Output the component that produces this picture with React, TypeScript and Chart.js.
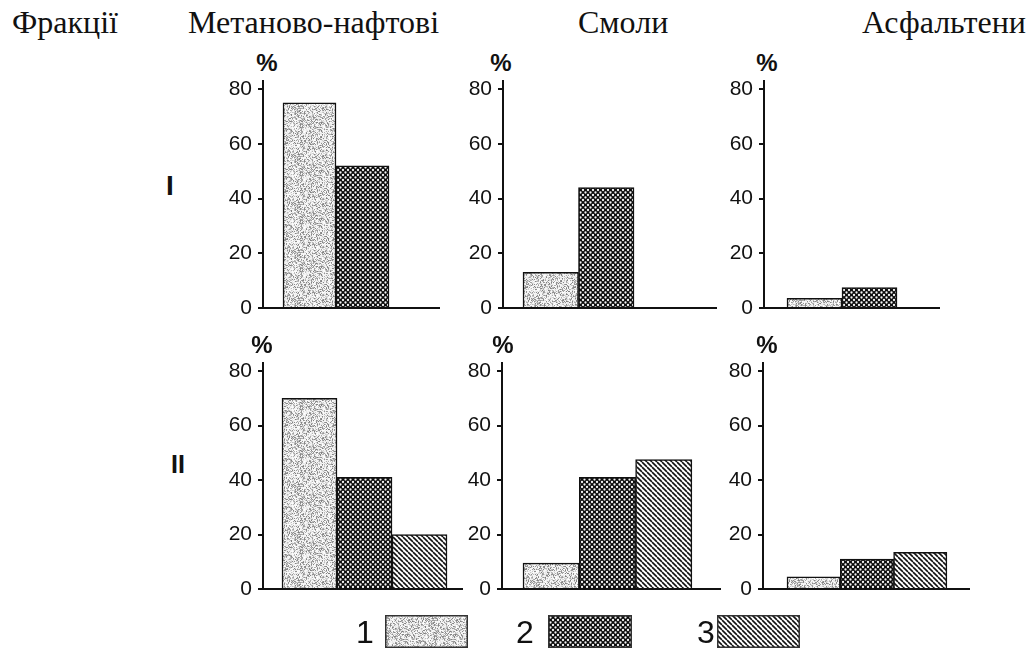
import React, { useEffect, useRef } from "react";
import { Chart, registerables } from "chart.js";

Chart.register(...registerables);

// ---------- DATA ----------
const headerLabel = "Фракції";
const fractions = ["Метаново-нафтові", "Смоли", "Асфальтени"];
const rowLabels = ["I", "II"];
const seriesLabels = ["1", "2", "3"];
const yTicks = [0, 20, 40, 60, 80];
const yAxisTop = 83;

// Row I (series 1 and 2 only), values per fraction
const rowISeries1 = [75, 13, 3.5];
const rowISeries2 = [52, 44, 7.5];
// Row II, values per fraction
const rowIISeries1 = [70, 9.5, 4.5];
const rowIISeries2 = [41, 41, 11];
const rowIISeries3 = [20, 47.5, 13.5];

const rowSeries = [
  [rowISeries1, rowISeries2],
  [rowIISeries1, rowIISeries2, rowIISeries3],
];

// ---------- LAYOUT ----------
const YW = 60; // y-axis box width
const PT = 26; // top padding
const PB = 22; // bottom padding
const PR = 4; // right padding
const XH = 2; // x-axis box height

const ROWS = [
  { base: 308, y80: 89, pctBase: 71, labelX: 166, labelBase: 196, labelSize: 28 },
  { base: 589, y80: 371, pctBase: 353, labelX: 171, labelBase: 473, labelSize: 25 },
];
const PANELS = [
  [
    { x0: 263, x1: 439, barStart: 283, barW: 53, pctX: 267 },
    { x0: 503, x1: 716, barStart: 523, barW: 55.5, pctX: 501 },
    { x0: 764, x1: 939, barStart: 787, barW: 55, pctX: 767 },
  ],
  [
    { x0: 263, x1: 462, barStart: 282, barW: 55, pctX: 262 },
    { x0: 502, x1: 720, barStart: 523, barW: 56.3, pctX: 503 },
    { x0: 763, x1: 969, barStart: 787, barW: 53.3, pctX: 767 },
  ],
];
const HEADER_X = [188, 578, 862];
const HEADER_LABEL_X = 12;
const HEADER_BASE = 33;
const HEADER_SIZE = 32;
const LEGEND = [
  { digitX: 356, boxX: 385, boxW: 83 },
  { digitX: 516, boxX: 548, boxW: 84 },
  { digitX: 697, boxX: 717, boxW: 83 },
];
const LEGEND_BOX_TOP = 615;
const LEGEND_BOX_H = 33;
const LEGEND_DIGIT_BASE = 643;
const LEGEND_DIGIT_SIZE = 32;

const SANS = '"Liberation Sans", Arial, Helvetica, sans-serif';
const SERIF = '"Liberation Serif", "Times New Roman", Times, serif';
const INK = "#111";

// ---------- PATTERNS ----------
function hash(x: number, y: number): number {
  let h = (Math.imul(x, 374761393) + Math.imul(y, 668265263)) | 0;
  h = Math.imul(h ^ (h >>> 13), 1274126177);
  h ^= h >>> 16;
  return (h >>> 0) / 4294967296;
}

function stippleTile(): HTMLCanvasElement {
  const s = 48;
  const c = document.createElement("canvas");
  c.width = s;
  c.height = s;
  const ctx = c.getContext("2d")!;
  const img = ctx.createImageData(s, s);
  for (let y = 0; y < s; y++) {
    for (let x = 0; x < s; x++) {
      const v = hash(x + 11, y + 7);
      const w = hash(x + 97, y + 31);
      const g = v < 0.45 ? 125 + w * 90 : 228 + w * 27;
      const i = (y * s + x) * 4;
      img.data[i] = g;
      img.data[i + 1] = g;
      img.data[i + 2] = g;
      img.data[i + 3] = 255;
    }
  }
  ctx.putImageData(img, 0, 0);
  return c;
}

function dotsTile(): HTMLCanvasElement {
  const s = 5;
  const c = document.createElement("canvas");
  c.width = s;
  c.height = s;
  const ctx = c.getContext("2d")!;
  ctx.fillStyle = "#0d0d0d";
  ctx.fillRect(0, 0, s, s);
  ctx.fillStyle = "#f4f4f4";
  const pts = [
    [0, 0],
    [s, 0],
    [0, s],
    [s, s],
    [s / 2, s / 2],
  ];
  for (const [px, py] of pts) {
    ctx.beginPath();
    ctx.arc(px, py, 1.15, 0, Math.PI * 2);
    ctx.fill();
  }
  return c;
}

function stripesTile(): HTMLCanvasElement {
  const s = 5;
  const c = document.createElement("canvas");
  c.width = s;
  c.height = s;
  const ctx = c.getContext("2d")!;
  ctx.fillStyle = "#ffffff";
  ctx.fillRect(0, 0, s, s);
  ctx.strokeStyle = "#111";
  ctx.lineWidth = 1.6;
  for (const k of [-s, 0, s]) {
    ctx.beginPath();
    ctx.moveTo(k, 0);
    ctx.lineTo(k + s, s);
    ctx.stroke();
  }
  return c;
}

const patternMakers = [stippleTile, dotsTile, stripesTile];

// ---------- COMPONENTS ----------
function Panel({ row, col }: { row: number; col: number }) {
  const ref = useRef<HTMLCanvasElement>(null);
  const R = ROWS[row];
  const P = PANELS[row][col];
  const k = (R.base - R.y80) / yTicks[yTicks.length - 1];
  const yTopPix = R.base - yAxisTop * k;
  const top = Math.round(yTopPix - PT);
  const left = P.x0 - YW;
  const width = Math.round(YW + (P.x1 - P.x0) + PR);
  const height = Math.round(R.base - top + XH + PB);
  const padTop = Math.round(yTopPix) - top;
  const values = rowSeries[row].map((s) => s[col]);
  const xMin = 0.5 - (P.barStart - P.x0) / P.barW;
  const xMax = xMin + (P.x1 - P.x0) / P.barW;

  useEffect(() => {
    const canvas = ref.current!;
    const ctx = canvas.getContext("2d")!;
    const pats = patternMakers.map((m) => ctx.createPattern(m(), "repeat"));
    const chart = new Chart(canvas, {
      type: "bar",
      data: {
        datasets: [
          {
            label: fractions[col],
            data: values.map((v, i) => ({ x: i + 1, y: v })),
            backgroundColor: values.map((_, i) => pats[i]) as any,
            borderColor: INK,
            borderWidth: 1.5,
            categoryPercentage: 1,
            barPercentage: 1,
          },
        ],
      },
      options: {
        responsive: false,
        animation: false,
        devicePixelRatio: 1,
        layout: { padding: { top: padTop, bottom: PB, left: 0, right: PR } },
        plugins: { legend: { display: false }, tooltip: { enabled: false } },
        scales: {
          x: {
            type: "linear",
            min: xMin,
            max: xMax,
            offset: false,
            ticks: { display: false, stepSize: 1, includeBounds: false },
            grid: { display: false },
            border: { display: true, color: INK, width: 2 },
            afterBuildTicks: (s: any) => {
              s.ticks = values.map((_, i) => ({ value: i + 1 }));
            },
            afterFit: (s: any) => {
              s.height = XH;
            },
          },
          y: {
            type: "linear",
            min: 0,
            max: yAxisTop,
            ticks: {
              stepSize: 20,
              includeBounds: false,
              padding: 6,
              color: INK,
              font: { family: SANS, size: 21 },
            },
            afterBuildTicks: (s: any) => {
              s.ticks = yTicks.map((v) => ({ value: v }));
            },
            grid: {
              display: true,
              drawOnChartArea: false,
              drawTicks: true,
              tickLength: 5,
              color: INK,
              lineWidth: 2,
            },
            border: { display: true, color: INK, width: 2 },
            afterFit: (s: any) => {
              s.width = YW;
            },
          },
        },
      } as any,
    });
    return () => chart.destroy();
  }, []);

  return (
    <canvas
      ref={ref}
      width={width}
      height={height}
      style={{ position: "absolute", left, top, width, height, display: "block" }}
    />
  );
}

function LegendBox({ idx }: { idx: number }) {
  const ref = useRef<HTMLCanvasElement>(null);
  const L = LEGEND[idx];
  useEffect(() => {
    const c = ref.current!;
    const ctx = c.getContext("2d")!;
    ctx.fillStyle = ctx.createPattern(patternMakers[idx](), "repeat")!;
    ctx.fillRect(0, 0, c.width, c.height);
    ctx.strokeStyle = "#333";
    ctx.lineWidth = 1.5;
    ctx.strokeRect(0.75, 0.75, c.width - 1.5, c.height - 1.5);
  }, []);
  return (
    <canvas
      ref={ref}
      width={L.boxW}
      height={LEGEND_BOX_H}
      style={{ position: "absolute", left: L.boxX, top: LEGEND_BOX_TOP, width: L.boxW, height: LEGEND_BOX_H }}
    />
  );
}

function Text({
  x,
  base,
  size,
  family,
  bold,
  children,
  center,
}: {
  x: number;
  base: number;
  size: number;
  family: string;
  bold?: boolean;
  children: React.ReactNode;
  center?: boolean;
}) {
  const k = family === SERIF ? 0.8375 : 0.8465;
  const top = base - size * k;
  return (
    <div
      style={{
        position: "absolute",
        left: center ? x - 40 : x,
        width: center ? 80 : undefined,
        textAlign: center ? "center" : "left",
        top,
        fontFamily: family,
        fontSize: size,
        lineHeight: `${size}px`,
        fontWeight: bold ? 700 : 400,
        color: INK,
        whiteSpace: "nowrap",
      }}
    >
      {children}
    </div>
  );
}

export default function App() {
  return (
    <div
      style={{
        position: "absolute",
        left: 0,
        top: 0,
        width: 1029,
        height: 650,
        background: "#fff",
        overflow: "hidden",
      }}
    >
      <Text x={HEADER_LABEL_X} base={HEADER_BASE} size={HEADER_SIZE} family={SERIF}>
        {headerLabel}
      </Text>
      {fractions.map((f, i) => (
        <Text key={f} x={HEADER_X[i]} base={HEADER_BASE} size={HEADER_SIZE} family={SERIF}>
          {f}
        </Text>
      ))}
      {rowLabels.map((r, ri) => (
        <Text key={r} x={ROWS[ri].labelX} base={ROWS[ri].labelBase} size={ROWS[ri].labelSize} family={SANS} bold>
          {r}
        </Text>
      ))}
      {ROWS.map((R, ri) =>
        PANELS[ri].map((P, ci) => (
          <React.Fragment key={`${ri}-${ci}`}>
            <Text x={P.pctX} base={R.pctBase} size={24} family={SANS} bold center>
              %
            </Text>
            <Panel row={ri} col={ci} />
          </React.Fragment>
        ))
      )}
      {seriesLabels.map((s, i) => (
        <React.Fragment key={s}>
          <Text x={LEGEND[i].digitX} base={LEGEND_DIGIT_BASE} size={LEGEND_DIGIT_SIZE} family={SANS}>
            {s}
          </Text>
          <LegendBox idx={i} />
        </React.Fragment>
      ))}
    </div>
  );
}
